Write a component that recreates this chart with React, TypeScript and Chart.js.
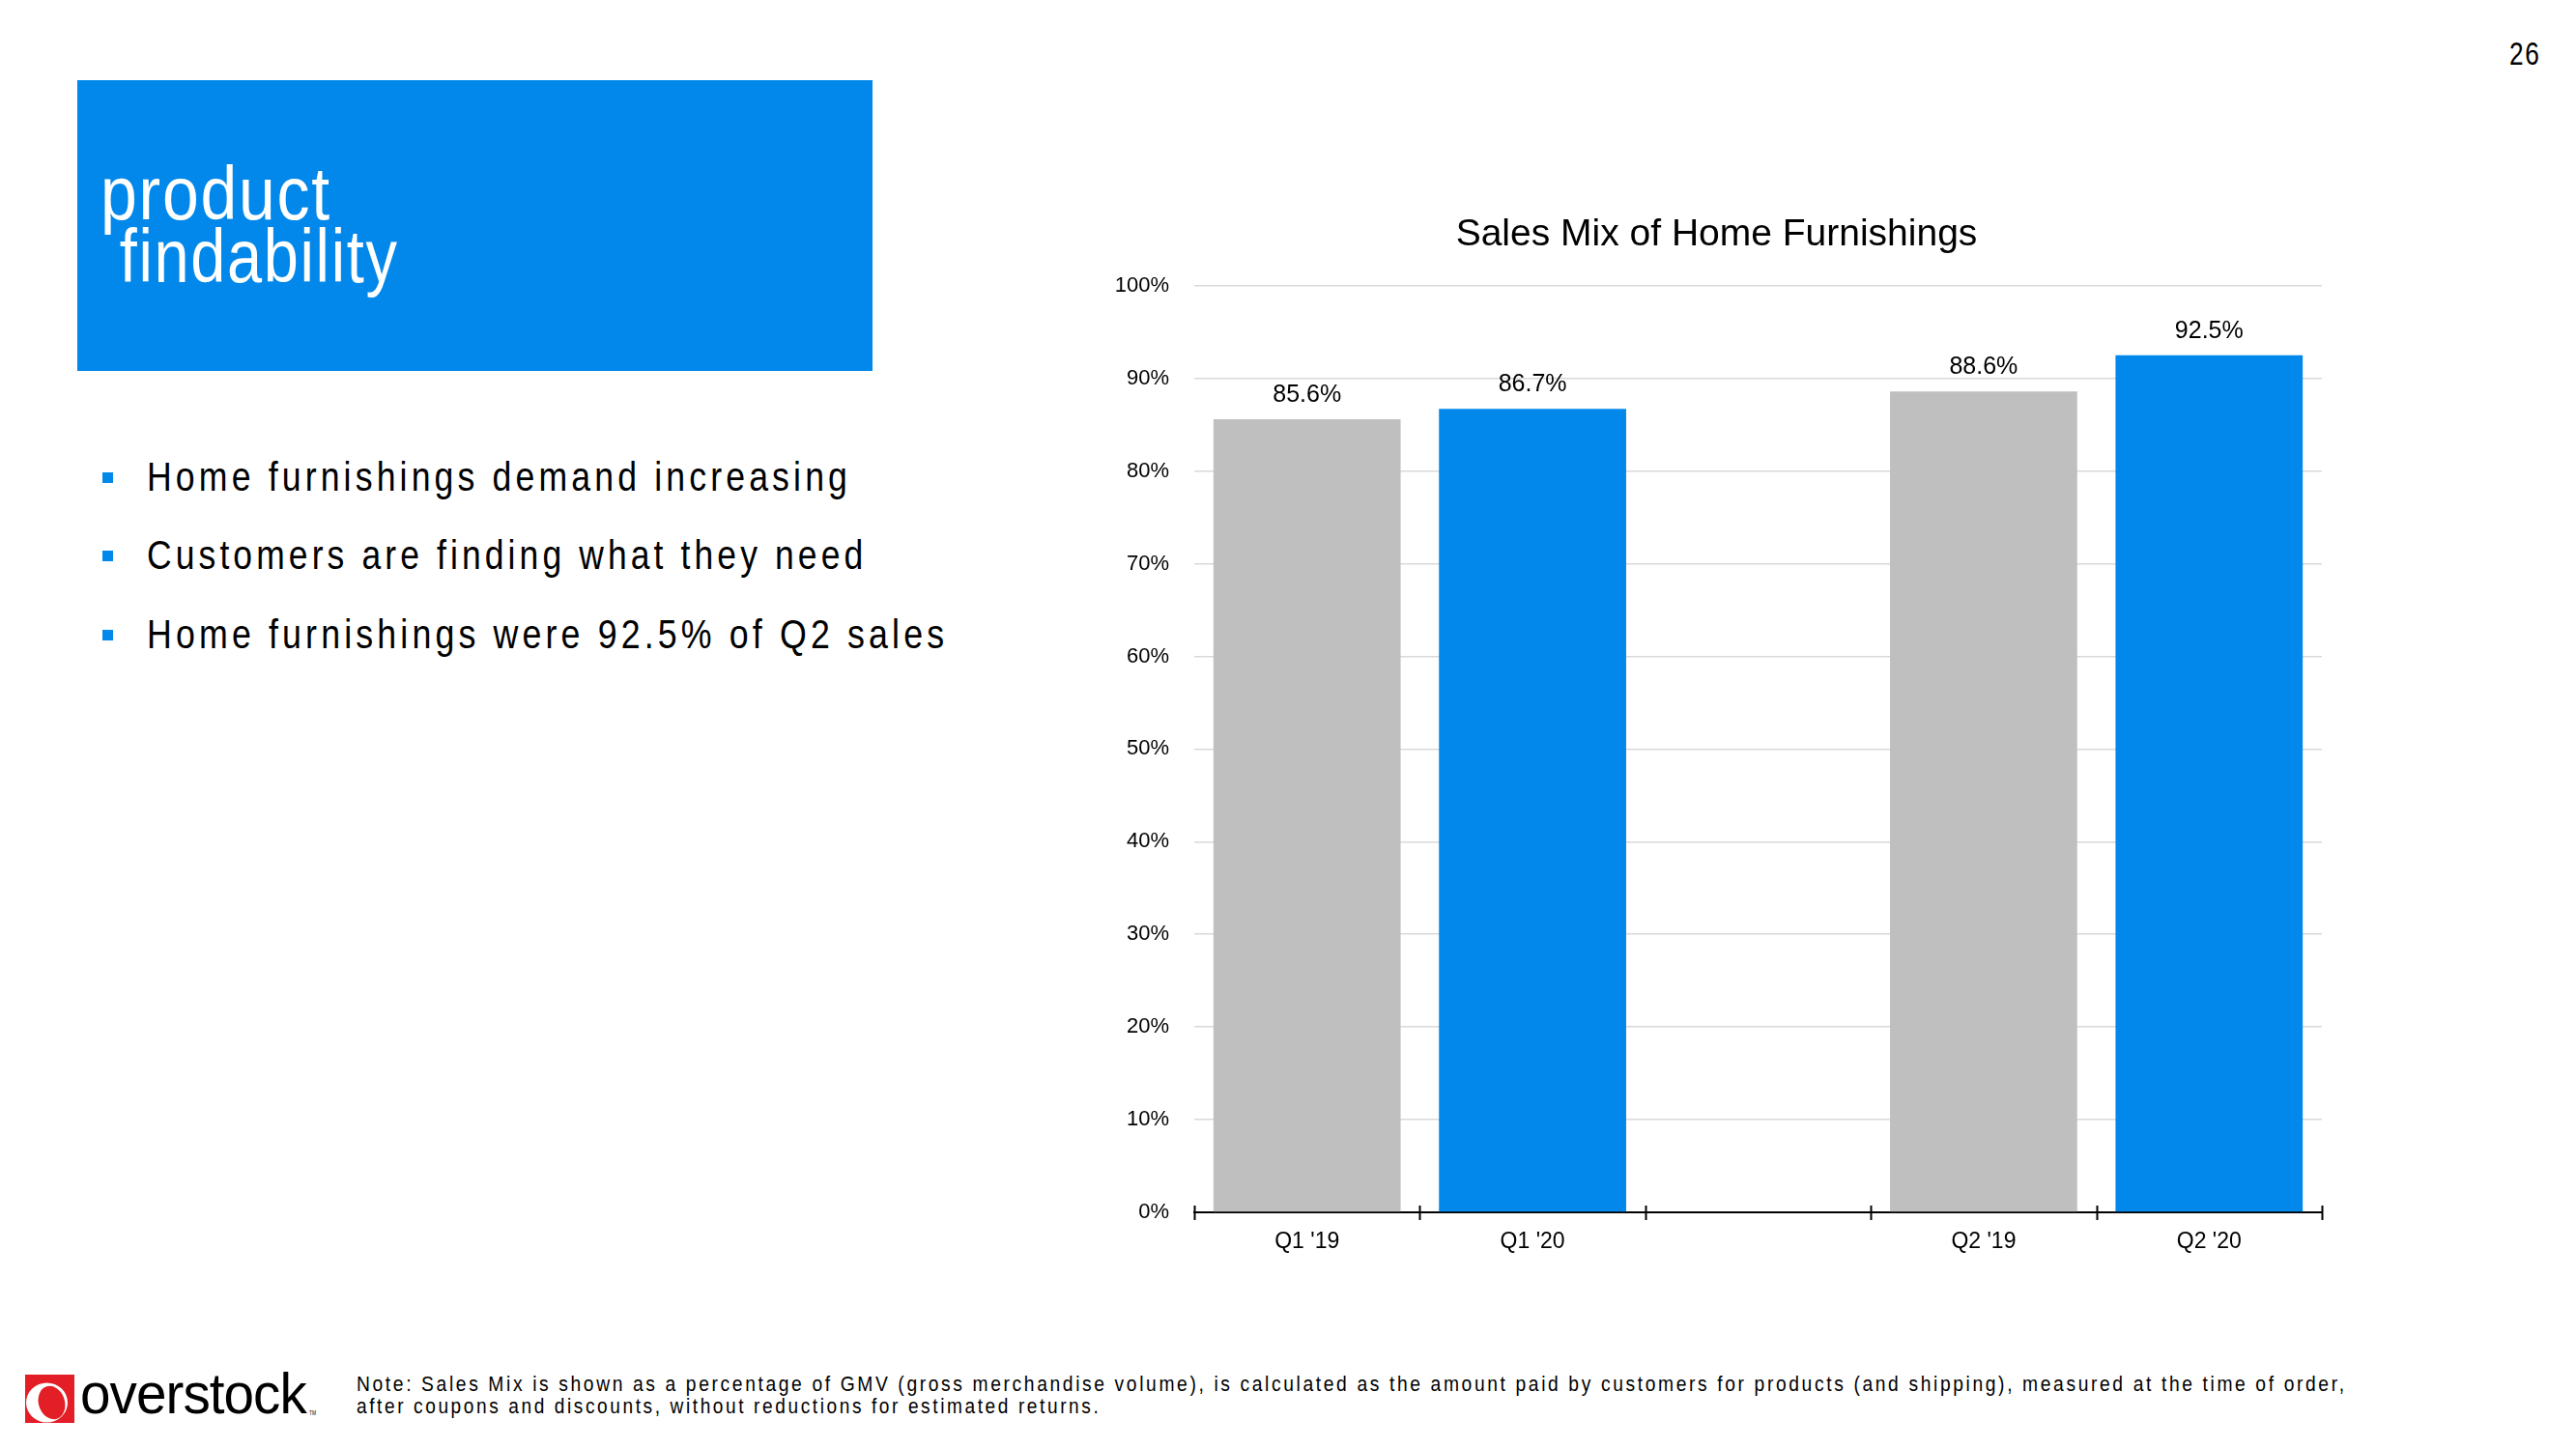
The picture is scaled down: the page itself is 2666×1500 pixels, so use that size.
import React, { useEffect, useLayoutEffect, useRef } from 'react';
import { Chart, registerables } from 'chart.js';

Chart.register(...registerables);

// ---------- data ----------
const categories = ["Q1 '19", "Q1 '20", '', "Q2 '19", "Q2 '20"];
const salesMix: (number | null)[] = [85.6, 86.7, null, 88.6, 92.5];
const barYear = ['2019', '2020', '', '2019', '2020'];
const yTickLabels = ['0%', '10%', '20%', '30%', '40%', '50%', '60%', '70%', '80%', '90%', '100%'];
const chartTitle = 'Sales Mix of Home Furnishings';
const slideTitle = ['product', ' findability'];
const bullets = [
  'Home furnishings demand increasing',
  'Customers are finding what they need',
  'Home furnishings were 92.5% of Q2 sales',
];
const noteLines = [
  'Note: Sales Mix is shown as a percentage of GMV (gross merchandise volume), is calculated as the amount paid by customers for products (and shipping), measured at the time of order,',
  'after coupons and discounts, without reductions for estimated returns.',
];
const pageNumber = '26';

// ---------- styles ----------
const FONT = "'Liberation Sans', Arial, Helvetica, sans-serif";
const BLUE = '#0288ea';
const GRAY = '#bfbfbf';
const yearColor: Record<string, string> = { '2019': GRAY, '2020': BLUE, '': 'rgba(0,0,0,0)' };

type FitProps = {
  text: string;
  left: number;
  baseline: number;
  size: number;
  width: number;
  color?: string;
  ls?: number;
};

function FitText({ text, left, baseline, size, width, color = '#000', ls = 0 }: FitProps) {
  const ref = useRef<HTMLDivElement>(null);
  useLayoutEffect(() => {
    const fit = () => {
      const el = ref.current;
      if (!el) return;
      el.style.transform = 'none';
      const w = el.offsetWidth - ls;
      if (w > 0) el.style.transform = `scaleX(${width / w})`;
    };
    fit();
    if ((document as any).fonts && (document as any).fonts.ready) {
      (document as any).fonts.ready.then(fit);
    }
  }, [text, width, size, ls]);
  return (
    <div
      ref={ref}
      style={{
        position: 'absolute',
        left,
        top: baseline - 0.8465 * size,
        fontFamily: FONT,
        fontSize: size,
        lineHeight: `${size}px`,
        whiteSpace: 'pre',
        letterSpacing: ls,
        color,
        transformOrigin: '0 0',
      }}
    >
      {text}
    </div>
  );
}

function SalesChart() {
  const canvasRef = useRef<HTMLCanvasElement>(null);

  useEffect(() => {
    const canvas = canvasRef.current;
    if (!canvas) return;

    const dataLabels = {
      id: 'dataLabels',
      afterDatasetsDraw(chart: any) {
        const ctx = chart.ctx;
        const meta = chart.getDatasetMeta(0);
        ctx.save();
        ctx.font = `25px ${FONT}`;
        ctx.fillStyle = '#000';
        ctx.textAlign = 'center';
        ctx.textBaseline = 'alphabetic';
        meta.data.forEach((bar: any, i: number) => {
          const v = salesMix[i];
          if (v == null) return;
          ctx.fillText(`${v.toFixed(1)}%`, bar.x, bar.y - 18);
        });
        ctx.restore();
      },
    };

    const crossTicks = {
      id: 'crossTicks',
      afterDraw(chart: any) {
        const ctx = chart.ctx;
        const xs = chart.scales.x;
        const bottom = chart.chartArea.bottom;
        ctx.save();
        ctx.strokeStyle = '#000';
        ctx.lineWidth = 2;
        for (let i = 0; i <= categories.length; i++) {
          const x = Math.round(xs.getPixelForValue(i - 0.5)) + 0.5;
          ctx.beginPath();
          ctx.moveTo(x, bottom - 7);
          ctx.lineTo(x, bottom + 8);
          ctx.stroke();
        }
        ctx.restore();
      },
    };

    const chart = new Chart(canvas, {
      type: 'bar',
      data: {
        labels: categories,
        datasets: [
          {
            data: salesMix as any,
            backgroundColor: barYear.map((y) => yearColor[y]),
            borderWidth: 0,
            barPercentage: 0.83,
            categoryPercentage: 1,
          },
        ],
      },
      options: {
        responsive: false,
        animation: false,
        devicePixelRatio: 1,
        layout: { padding: { left: 0, right: 37, top: 0, bottom: 0 } },
        plugins: {
          legend: { display: false },
          tooltip: { enabled: false },
          title: {
            display: true,
            text: chartTitle,
            color: '#000',
            font: { family: FONT, size: 39, weight: 'normal' },
            padding: { top: 20, bottom: 29 },
          },
        },
        scales: {
          x: {
            type: 'category',
            offset: true,
            grid: { display: false },
            border: { display: true, color: '#000', width: 2 },
            ticks: {
              color: '#000',
              font: { family: FONT, size: 23 },
              padding: 9,
              maxRotation: 0,
              autoSkip: false,
            },
            afterFit: (s: any) => {
              s.height = 60;
            },
          },
          y: {
            min: 0,
            max: 100,
            border: { display: false },
            grid: { color: '#d9d9d9', lineWidth: 1.5, drawTicks: false },
            ticks: {
              stepSize: 10,
              color: '#000',
              font: { family: FONT, size: 22 },
              padding: 26,
              callback: (_v: any, i: number) => yTickLabels[i],
            },
            afterFit: (s: any) => {
              s.width = 86;
            },
          },
        },
      },
      plugins: [dataLabels, crossTicks],
    });

    return () => chart.destroy();
  }, []);

  return (
    <canvas
      ref={canvasRef}
      width={1290}
      height={1115}
      style={{ position: 'absolute', left: 1150, top: 200, width: 1290, height: 1115, display: 'block' }}
    />
  );
}

function Logo() {
  return (
    <svg
      width={60}
      height={56}
      viewBox="0 0 60 56"
      style={{ position: 'absolute', left: 24, top: 1421 }}
    >
      <rect x={2} y={2} width={51} height={50} fill="#e31e26" />
      <ellipse cx={24.5} cy={31} rx={21.5} ry={20.5} fill="#ffffff" />
      <ellipse cx={29.5} cy={31} rx={13.5} ry={17.5} fill="#e31e26" transform="rotate(-18 29.5 31)" />
      <rect x={2} y={52} width={51} height={4} fill="#ffffff" />
    </svg>
  );
}

export default function App() {
  const bulletBaselines = [508, 589, 671];
  const bulletWidths = [725, 741, 825];
  return (
    <div
      style={{
        position: 'fixed',
        left: 0,
        top: 0,
        width: 2666,
        height: 1500,
        background: '#ffffff',
        overflow: 'hidden',
      }}
    >
      <FitText text={pageNumber} left={2597} baseline={67} size={33} width={31} ls={2} />

      <div style={{ position: 'absolute', left: 80, top: 83, width: 823, height: 301, background: BLUE }} />
      <FitText text={slideTitle[0]} left={104} baseline={227} size={78} width={237} color="#ffffff" ls={2} />
      <FitText text={slideTitle[1]} left={104} baseline={292} size={78} width={307} color="#ffffff" ls={2} />

      {bullets.map((b, i) => (
        <React.Fragment key={i}>
          <div
            style={{
              position: 'absolute',
              left: 106,
              top: bulletBaselines[i] - 19,
              width: 11,
              height: 11,
              background: BLUE,
            }}
          />
          <FitText text={b} left={152} baseline={bulletBaselines[i]} size={43} width={bulletWidths[i]} ls={5} />
        </React.Fragment>
      ))}

      <SalesChart />

      <Logo />
      <FitText text="overstock" left={83} baseline={1464} size={60} width={235} ls={-1} />
      <FitText text="TM" left={320} baseline={1465} size={7} width={7} />

      <FitText text={noteLines[0]} left={369} baseline={1441} size={22} width={2057} ls={3} />
      <FitText text={noteLines[1]} left={369} baseline={1464} size={22} width={768} ls={3} />
    </div>
  );
}
